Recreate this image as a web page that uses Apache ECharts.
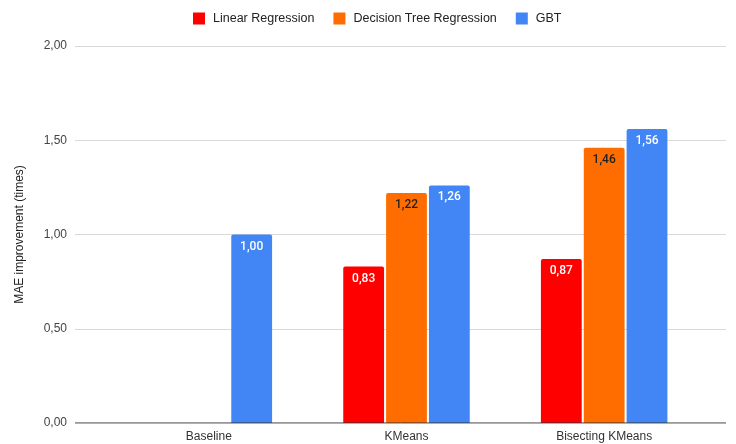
<!DOCTYPE html>
<html>
<head>
<meta charset="utf-8">
<script src="https://cdn.jsdelivr.net/npm/echarts@6/dist/echarts.min.js"></script>
<style>
  html, body { margin: 0; padding: 0; background: #fff; }
  #chart { width: 736px; height: 444px; }
</style>
</head>
<body>
<div id="chart"></div>
<script>
const categories = ['Baseline', 'KMeans', 'Bisecting KMeans'];
const linearReg = [null, 0.83, 0.87];
const decisionTree = [null, 1.22, 1.46];
const gbt = [1.00, 1.26, 1.56];
const yTicks = [0, 0.5, 1, 1.5, 2];

const fmt = v => v.toFixed(2).replace('.', ',');

function barSeries(name, data, color, labelColor) {
  return {
    name: name,
    type: 'bar',
    xAxisIndex: 1,
    yAxisIndex: 1,
    data: data,
    barGap: '5%',
    barCategoryGap: '36%',
    itemStyle: { color: color, borderRadius: [2, 2, 0, 0] },
    label: {
      show: true,
      position: 'insideTop',
      distance: 6,
      color: labelColor,
      fontFamily: 'Roboto',
      fontSize: 12,
      fontWeight: 500,
      formatter: p => fmt(p.value)
    }
  };
}

const chart = echarts.init(document.getElementById('chart'));
chart.setOption({
  animation: false,
  textStyle: { fontFamily: 'Liberation Sans' },
  legend: {
    top: 12,
    left: 193,
    padding: 0,
    itemWidth: 12,
    itemHeight: 12,
    itemGap: 19,
    icon: 'rect',
    textStyle: { color: '#222', fontSize: 12.5, fontFamily: 'Liberation Sans', padding: [0, 0, 0, 3] },
    data: ['Linear Regression', 'Decision Tree Regression', 'GBT']
  },
  grid: [
    { left: 75, right: 10, top: 46, bottom: 21 },
    { left: 110, right: 33, top: 46, bottom: 21 }
  ],
  xAxis: [
    { gridIndex: 0, type: 'value', show: false, min: 0, max: 1 },
    {
      gridIndex: 1,
      type: 'category',
      data: categories,
      axisLine: { show: false },
      axisTick: { show: false },
      axisLabel: { color: '#333', fontSize: 12, margin: 8 }
    }
  ],
  yAxis: [
    {
      gridIndex: 0,
      type: 'value',
      min: yTicks[0],
      max: yTicks[yTicks.length - 1],
      interval: 0.5,
      name: 'MAE improvement (times)',
      nameLocation: 'middle',
      nameGap: 49,
      nameTextStyle: { color: '#222', fontSize: 12 },
      axisLabel: { color: '#444', fontSize: 12, margin: 8, formatter: v => fmt(v) },
      axisLine: { show: false },
      axisTick: { show: false },
      splitLine: { lineStyle: { color: '#d9d9d9', width: 1 } }
    },
    {
      gridIndex: 1,
      type: 'value',
      min: yTicks[0],
      max: yTicks[yTicks.length - 1],
      interval: 0.5,
      show: false
    }
  ],
  series: [
    {
      type: 'line',
      xAxisIndex: 0,
      yAxisIndex: 0,
      data: [[0, 0], [1, 0]],
      symbol: 'none',
      lineStyle: { color: '#333', width: 1 },
      silent: true,
      z: 5
    },
    barSeries('Linear Regression', linearReg, '#ff0000', '#fff'),
    barSeries('Decision Tree Regression', decisionTree, '#ff6d01', '#222'),
    barSeries('GBT', gbt, '#4285f4', '#fff')
  ]
});
</script>
</body>
</html>
